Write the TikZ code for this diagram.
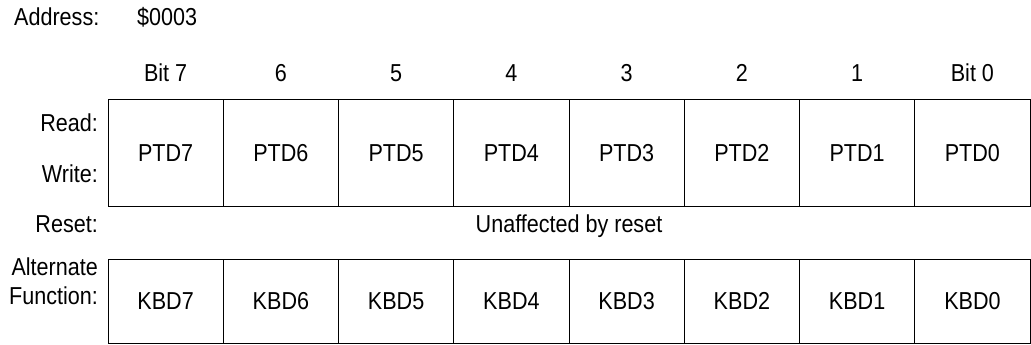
\documentclass[tikz,border=0pt]{standalone}
\usepackage{fontspec}
\setmainfont{Liberation Sans}[FakeStretch=0.88]
\begin{document}
\begin{tikzpicture}[
			x=1pt, y=-1pt,
			every node/.style={font=\fontsize{24.5}{29}\selectfont, inner sep=0pt, text height=17.8pt, text depth=0pt},
			cell/.style={rectangle, draw, line width=0.9pt, minimum width=115.25pt, minimum height=107pt},
			altcell/.style={cell, minimum height=84pt},
			lbl/.style={anchor=east, align=right}
		]
		\useasboundingbox (0, 0) rectangle (1031, 345);

		% Intestazione
		\node[anchor=west] (address) at (14, 17) {Address:};
		\node[anchor=west] (addrval) at (137, 17) {\$0003};

		% Numeri dei bit
		\node (b7) at (165.6, 73) {Bit 7};
		\node (b6) at (280.9, 73) {6};
		\node (b5) at (396.1, 73) {5};
		\node (b4) at (511.4, 73) {4};
		\node (b3) at (626.6, 73) {3};
		\node (b2) at (741.9, 73) {2};
		\node (b1) at (857.1, 73) {1};
		\node (b0) at (972.4, 73) {Bit 0};

		% Etichette delle righe
		\node[lbl] (read) at (98, 122.5) {Read:};
		\node[lbl] (write) at (98, 174) {Write:};
		\node[lbl] (reset) at (98, 224) {Reset:};
		\node[lbl, text height={}] (altfn) at (98, 281.5) {Alternate\\Function:};

		% Registro dati
		\node[cell] (ptd7) at (165.6, 152.5) {PTD7};
		\node[cell] (ptd6) at (280.9, 152.5) {PTD6};
		\node[cell] (ptd5) at (396.1, 152.5) {PTD5};
		\node[cell] (ptd4) at (511.4, 152.5) {PTD4};
		\node[cell] (ptd3) at (626.6, 152.5) {PTD3};
		\node[cell] (ptd2) at (741.9, 152.5) {PTD2};
		\node[cell] (ptd1) at (857.1, 152.5) {PTD1};
		\node[cell] (ptd0) at (972.4, 152.5) {PTD0};

		\node (unaff) at (569, 224) {Unaffected by reset};

		% Funzione alternativa
		\node[altcell] (kbd7) at (165.6, 301) {KBD7};
		\node[altcell] (kbd6) at (280.9, 301) {KBD6};
		\node[altcell] (kbd5) at (396.1, 301) {KBD5};
		\node[altcell] (kbd4) at (511.4, 301) {KBD4};
		\node[altcell] (kbd3) at (626.6, 301) {KBD3};
		\node[altcell] (kbd2) at (741.9, 301) {KBD2};
		\node[altcell] (kbd1) at (857.1, 301) {KBD1};
		\node[altcell] (kbd0) at (972.4, 301) {KBD0};
	\end{tikzpicture}
\end{document}
